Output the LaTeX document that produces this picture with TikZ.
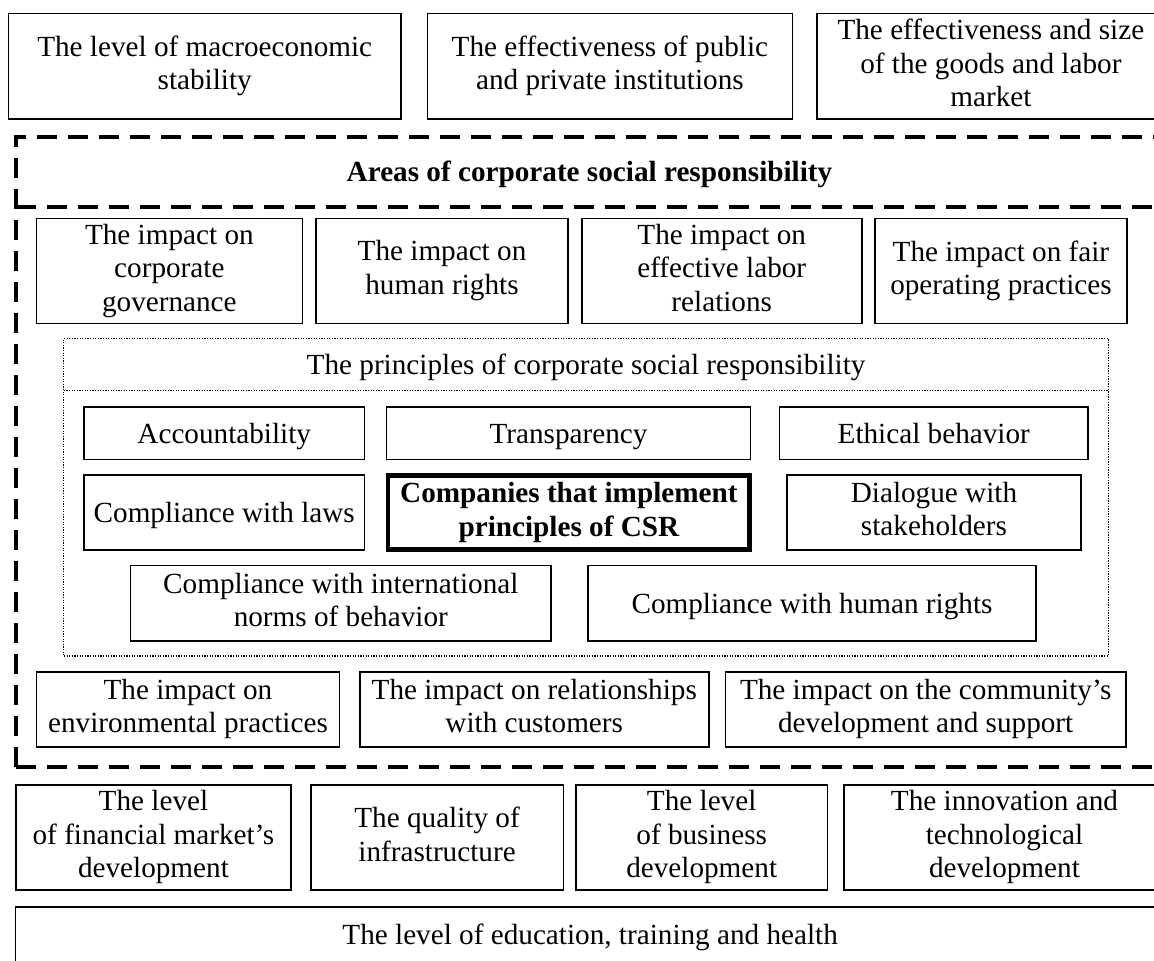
\documentclass[tikz,border=0pt]{standalone}
\usepackage{fontspec}
\setmainfont{Liberation Serif}
\newcommand\fs{\fontsize{29.2}{33.5}\selectfont}
\newcommand\mystrut{\rule[-6.5pt]{0pt}{33.5pt}}
\tikzset{
  box/.style={draw, line width=1.6pt, inner sep=0pt, align=center, font=\fs,
    execute at begin node=\mystrut, execute at end node=\mystrut},
  thickbox/.style={box, line width=4.5pt, font=\fs\bfseries},
  dashline/.style={draw, line width=3.6pt, dash pattern=on 20pt off 11pt},
  dashbox/.style={dashline, inner sep=0pt},
  titlebox/.style={inner sep=0pt, align=center, font=\fs\bfseries,
    execute at begin node=\mystrut, execute at end node=\mystrut},
  dotline/.style={draw, line width=1.1pt, dash pattern=on 1.3pt off 1.3pt},
  dotbox/.style={dotline, inner sep=0pt}
}
% #1 style, #2 name, #3 x1, #4 y1, #5 x2, #6 y2, #7 text
\newcommand\bx[7][box]{%
  \node[#1, minimum width={#5-#3}, minimum height={#6-#4}] (#2) at ({(#3+#5)/2},{(#4+#6)/2}) {#7};}
\begin{document}
\begin{tikzpicture}[x=1pt,y=-1pt]
\useasboundingbox (0,0) rectangle (1154,961);
\clip (0,0) rectangle (1154,961);
% top row
\bx{t1}{8.4}{13.3}{401}{119}{The level of macroeconomic\\stability}
\bx{t2}{427.5}{13.3}{792.3}{119}{The effectiveness of public\\and private institutions}
\bx{t3}{816.8}{13.3}{1165}{119}{The effectiveness and size\\of the goods and labor\\market}
% dashed area
\bx[dashbox]{areabody}{16}{136.7}{1163}{766.7}{}
\bx[titlebox]{areas}{16}{136.7}{1163}{206.7}{Areas of corporate social responsibility}
\draw[dashline] (areas.south west) -- (areas.south east);
% impact row 1
\bx{ia}{36.4}{218.3}{302.3}{323.3}{The impact on\\corporate\\governance}
\bx{ib}{316}{218.3}{568}{323.3}{The impact on\\human rights}
\bx{ic}{581.7}{218.3}{861.8}{323.3}{The impact on\\effective labor\\relations}
\bx{id}{874.7}{218.3}{1127.2}{323.3}{The impact on fair\\operating practices}
% principles
\bx[dotbox]{princbody}{63.9}{338.3}{1108.2}{656}{}
\bx[titlebox, font=\fs]{princ}{63.9}{338.3}{1108.2}{390.7}{The principles of corporate social responsibility}
\draw[dotline] (princ.south west) -- (princ.south east);
\bx{acc}{84.2}{406.7}{364.3}{459.3}{Accountability}
\bx{tra}{386.5}{406.7}{750.6}{459.3}{Transparency}
\bx{eth}{779.5}{406.7}{1088}{459.3}{Ethical behavior}
\bx{law}{84.2}{474.7}{364.3}{550}{Compliance with laws}
\bx[thickbox]{comp}{388.1}{475.5}{749.7}{549.5}{Companies that implement\\principles of CSR}
\bx{dia}{787.2}{474.7}{1080.7}{550}{Dialogue with\\stakeholders}
\bx{intl}{130.5}{565.3}{551.1}{641}{Compliance with international\\norms of behavior}
\bx{hum}{588}{565.3}{1036}{641}{Compliance with human rights}
% impact row 2
\bx{ie}{36.4}{671.7}{339.5}{746.7}{The impact on\\environmental practices}
\bx{if}{359.7}{671.7}{708.8}{746.7}{The impact on relationships\\with customers}
\bx{ig}{725.3}{671.7}{1126.1}{746.7}{The impact on the community's\\development and support}
% bottom row
\bx{b1}{16}{785}{290.9}{890}{The level\\of financial market's\\development}
\bx{b2}{310.8}{785}{563.3}{890}{The quality of\\infrastructure}
\bx{b3}{576}{785}{827.4}{890}{The level\\of business\\development}
\bx{b4}{843.9}{785}{1165}{890}{The innovation and\\technological\\development}
\bx{edu}{15.3}{906.7}{1165}{962.7}{The level of education, training and health}
\end{tikzpicture}
\end{document}
